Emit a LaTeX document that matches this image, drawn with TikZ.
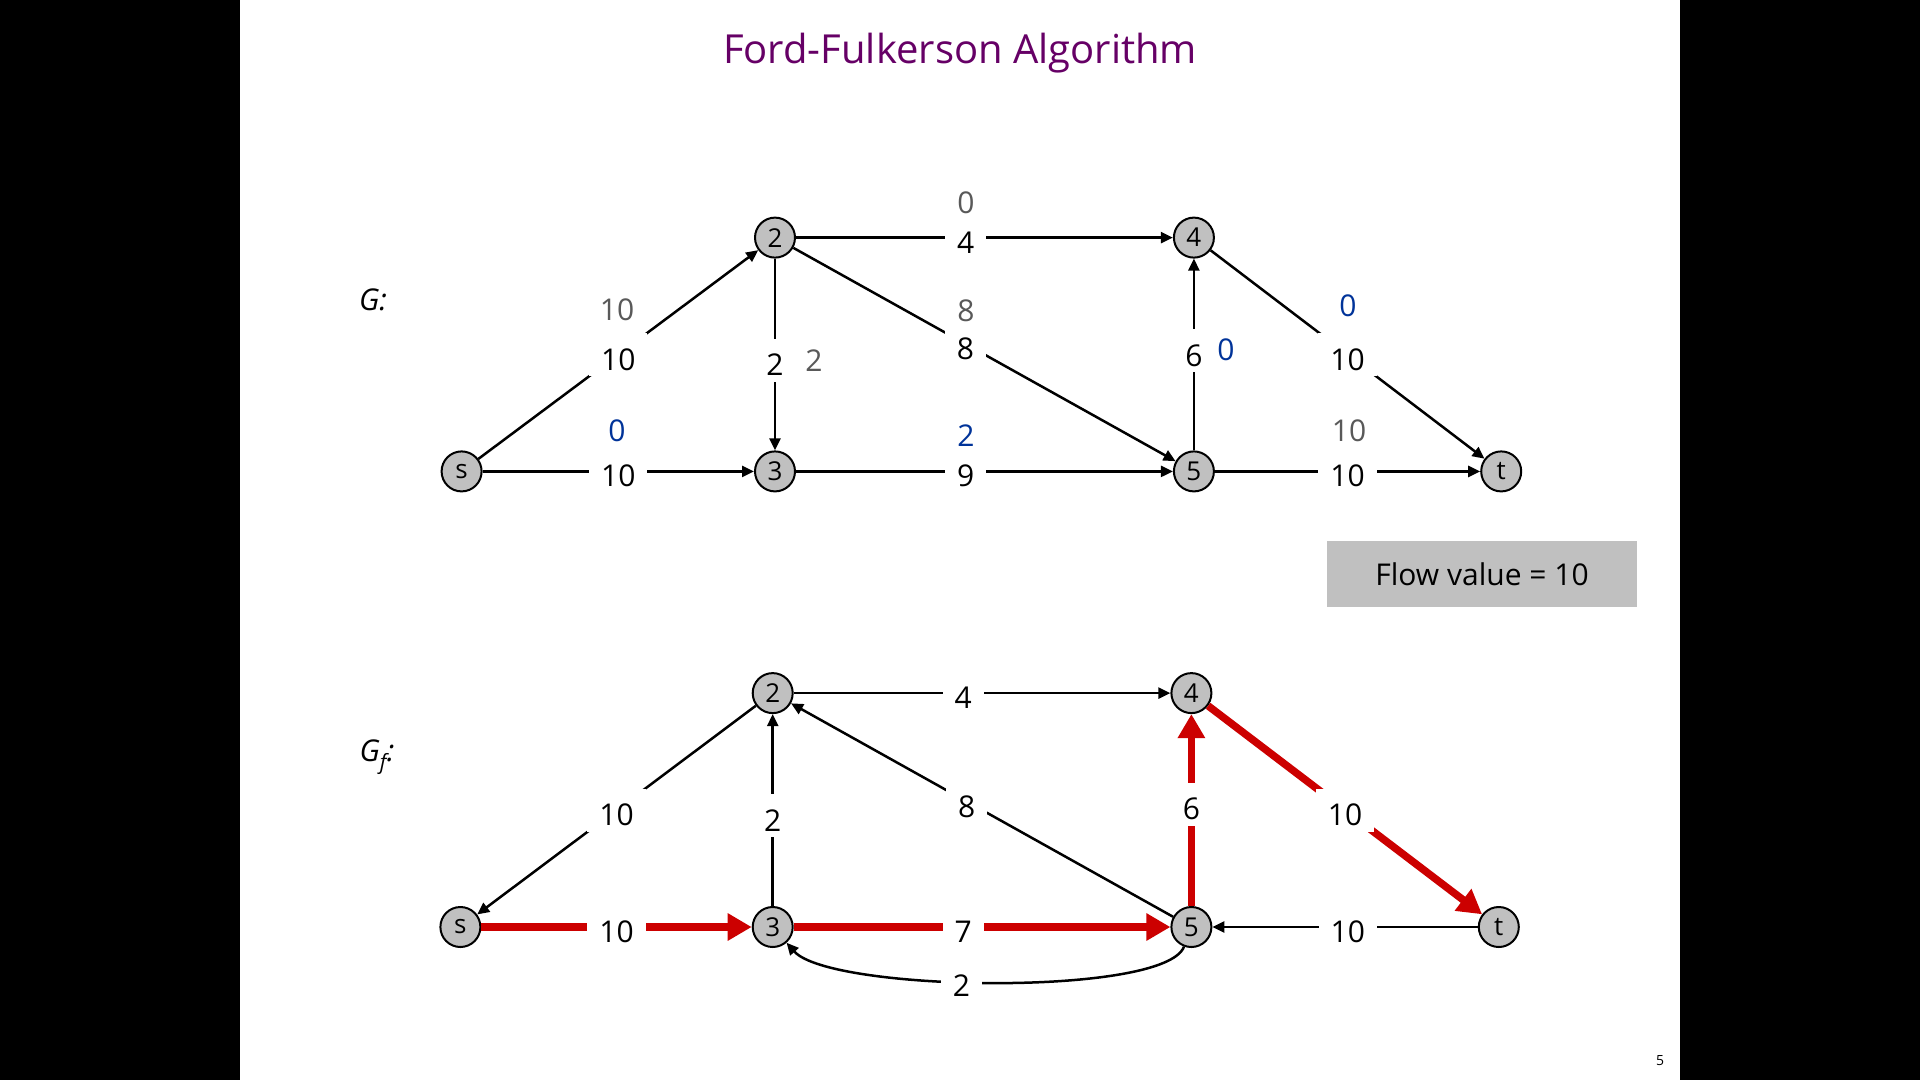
\documentclass[tikz,border=0pt]{standalone}
\usepackage{fontspec}
\setmainfont{Open Sans}
\usetikzlibrary{arrows.meta}
\definecolor{nodegray}{HTML}{C0C0C0}
\definecolor{flowgray}{HTML}{595959}
\definecolor{flowblue}{HTML}{003399}
\definecolor{pathred}{HTML}{CC0000}
\definecolor{titlepurple}{HTML}{660066}
\begin{document}
\begin{tikzpicture}[x=1pt,y=-1pt,
  vtx/.style={circle,draw=black,fill=nodegray,line width=2pt,minimum size=40pt,inner sep=0pt,font=\fontsize{26}{26}\selectfont},
  lbl/.style={fill=white,inner xsep=12pt,inner ysep=6pt,text height=31pt,text depth=0pt,font=\fontsize{30}{30}\selectfont},
  note/.style={inner sep=0pt,font=\fontsize{30}{30}\selectfont},
  flowedge/.style={line width=2.5pt,-{Triangle[length=12pt,width=11pt]}},
  pathedge/.style={line width=7.5pt,draw=pathred,-{Triangle[length=24pt,width=26pt]}},
]
\useasboundingbox (0,0) rectangle (1920,1080);
\fill[white] (240,0) rectangle (1680,1080);
\fill[black] (0,0) rectangle (240,1080);
\fill[black] (1680,0) rectangle (1920,1080);

\node[font=\fontsize{40}{40}\selectfont,text=titlepurple] (title) at (960,53) {Ford-Fulkerson Algorithm};
\node[font=\fontsize{30}{30}\selectfont\itshape] (gl) at (373,300) {G:};
\node[font=\fontsize{30}{30}\selectfont\itshape] (gfl) at (377,757) {G\textsubscript{f}:};
\node[fill=nodegray,minimum width=310pt,minimum height=66pt,font=\fontsize{30}{30}\selectfont] (flow) at (1482,574) {Flow value = 10};
\node[font=\fontsize{14}{14}\selectfont] (pg) at (1660,1061) {5};

% top graph G
\node[vtx] (as) at (461.6,471.4) {s};
\node[vtx] (a2) at (775,237.6) {2};
\node[vtx] (a3) at (775,471.4) {3};
\node[vtx] (a4) at (1193.9,237.6) {4};
\node[vtx] (a5) at (1193.9,471.4) {5};
\node[vtx] (at) at (1501.2,471.4) {t};

\draw[flowedge] (as) -- (a2) node[lbl,pos=0.5] (la1) {10};
\draw[flowedge] (as) -- (a3) node[lbl,pos=0.5] (la2) {10};
\draw[flowedge] (a2) -- (a4) node[lbl,pos=0.45] (la3) {4};
\draw[flowedge] (a2) -- (a3) node[lbl,pos=0.53] (la4) {2};
\draw[flowedge] (a2) -- (a5) node[lbl,pos=0.45] (la5) {8};
\draw[flowedge] (a3) -- (a5) node[lbl,pos=0.45] (la6) {9};
\draw[flowedge] (a5) -- (a4) node[lbl,pos=0.52] (la7) {6};
\draw[flowedge] (a4) -- (at) node[lbl,pos=0.5] (la8) {10};
\draw[flowedge] (a5) -- (at) node[lbl,pos=0.5] (la9) {10};

\node[note,text=flowgray] (fa1) at (617,310) {10};
\node[note,text=flowblue] (fa2) at (617,431) {0};
\node[note,text=flowgray] (fa3) at (966,203) {0};
\node[note,text=flowgray] (fa4) at (814,361) {2};
\node[note,text=flowgray] (fa5) at (966,311) {8};
\node[note,text=flowblue] (fa6) at (966,436) {2};
\node[note,text=flowblue] (fa7) at (1226,350) {0};
\node[note,text=flowblue] (fa8) at (1348,306) {0};
\node[note,text=flowgray] (fa9) at (1349,431) {10};

% bottom graph Gf
\node[vtx] (bs) at (460.4,927) {s};
\node[vtx] (b2) at (772.7,693.1) {2};
\node[vtx] (b3) at (772.7,927) {3};
\node[vtx] (b4) at (1191.4,693.1) {4};
\node[vtx] (b5) at (1191.4,927) {5};
\node[vtx] (bt) at (1498.8,927) {t};

\draw[flowedge] (b2) -- (bs) node[lbl,pos=0.5] (lb1) {10};
\draw[flowedge] (b2) -- (b4) node[lbl,pos=0.45] (lb2) {4};
\draw[flowedge] (b3) -- (b2) node[lbl,pos=0.47] (lb3) {2};
\draw[flowedge] (b5) -- (b2) node[lbl,pos=0.54] (lb4) {8};
\draw[flowedge] (bt) -- (b5) node[lbl,pos=0.49] (lb5) {10};
\draw[flowedge] (b5) .. controls (1165,997) and (830,992) .. (b3) node[lbl,pos=0.56] (lb6) {2};
\draw[pathedge] (bs) -- (b3) node[lbl,pos=0.5] (lb7) {10};
\draw[pathedge] (b3) -- (b5) node[lbl,pos=0.45] (lb8) {7};
\draw[pathedge] (b5) -- (b4) node[lbl,pos=0.53] (lb9) {6};
\draw[pathedge] (b4) -- (bt) node[lbl,pos=0.5] (lb10) {10};
\end{tikzpicture}
\end{document}
